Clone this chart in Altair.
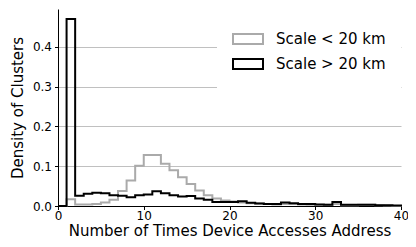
import altair as alt
import pandas as pd

series_names = ["Scale < 20 km", "Scale > 20 km"]
bin_edges = list(range(0, 41))
gray_vals = [0.0, 0.017, 0.004, 0.004, 0.005, 0.009, 0.016, 0.038, 0.064, 0.101,
             0.128, 0.128, 0.106, 0.090, 0.072, 0.055, 0.039, 0.027, 0.019, 0.014,
             0.011, 0.009, 0.007, 0.006, 0.005, 0.004, 0.005, 0.005, 0.004, 0.003,
             0.003, 0.003, 0.005, 0.002, 0.002, 0.003, 0.003, 0.002, 0.001, 0.0]
black_vals = [0.0, 0.47, 0.026, 0.031, 0.033, 0.032, 0.027, 0.026, 0.022, 0.027,
              0.029, 0.037, 0.032, 0.027, 0.024, 0.025, 0.019, 0.016, 0.010, 0.010,
              0.010, 0.012, 0.008, 0.006, 0.005, 0.005, 0.009, 0.007, 0.005, 0.005,
              0.004, 0.003, 0.010, 0.003, 0.003, 0.003, 0.003, 0.002, 0.002, 0.001]

rows = []
for order, (name, vals) in enumerate(zip(series_names, [gray_vals, black_vals])):
    pts = [(bin_edges[0], 0.0)]
    for i, v in enumerate(vals):
        pts.append((bin_edges[i], v))
    pts.append((bin_edges[-1], vals[-1]))
    pts.append((bin_edges[-1], 0.0))
    for k, (x, y) in enumerate(pts):
        rows.append({"x": x, "y": y, "series": name, "k": k, "o": order})
df = pd.DataFrame(rows)

FONT = "DejaVu Sans"

chart = alt.Chart(df).mark_line(interpolate="step-after", strokeWidth=2).encode(
    x=alt.X("x:Q", scale=alt.Scale(domain=[0, 40], nice=False, zero=False),
            axis=alt.Axis(values=[0, 10, 20, 30, 40], title="Number of Times Device Accesses Address",
                          grid=False, labelFlush=False, labelPadding=1,
                          titleBaseline="alphabetic", titleY=29)),
    y=alt.Y("y:Q", scale=alt.Scale(domain=[0, 0.495], nice=False),
            axis=alt.Axis(values=[0, 0.1, 0.2, 0.3, 0.4], format=".1f", title="Density of Clusters",
                          grid=True, gridColor="#c0c0c0", gridWidth=1, labelPadding=3,
                          titlePadding=7)),
    stroke=alt.Stroke("series:N", scale=alt.Scale(domain=series_names, range=["#aaaaaa", "#000000"]),
                      legend=alt.Legend(title=None, orient="none", legendX=159, legendY=-1,
                                        symbolType="M-1,-0.33L1,-0.33L1,0.33L-1,0.33Z",
                                        symbolSize=900, symbolStrokeWidth=2, symbolFillColor="white",
                                        labelFont=FONT, labelFontSize=15, labelColor="black",
                                        labelOffset=12, rowPadding=0, fillColor="white",
                                        padding=15)),
    order=alt.Order("k:Q"),
    detail="series:N",
).properties(
    width=343, height=197,
    autosize=alt.AutoSizeParams(type="none"),
    padding={"left": 50, "top": 1, "right": 7, "bottom": 33},
).configure_view(stroke=None).configure_axis(
    domainColor="black", tickColor="black", labelColor="black", titleColor="black",
    labelFont=FONT, titleFont=FONT, labelFontSize=12, titleFontSize=15, titleFontWeight="normal",
    tickSize=3.5, domainWidth=1,
)

chart.save("out.html", embed_options={"renderer": "svg", "actions": False})
